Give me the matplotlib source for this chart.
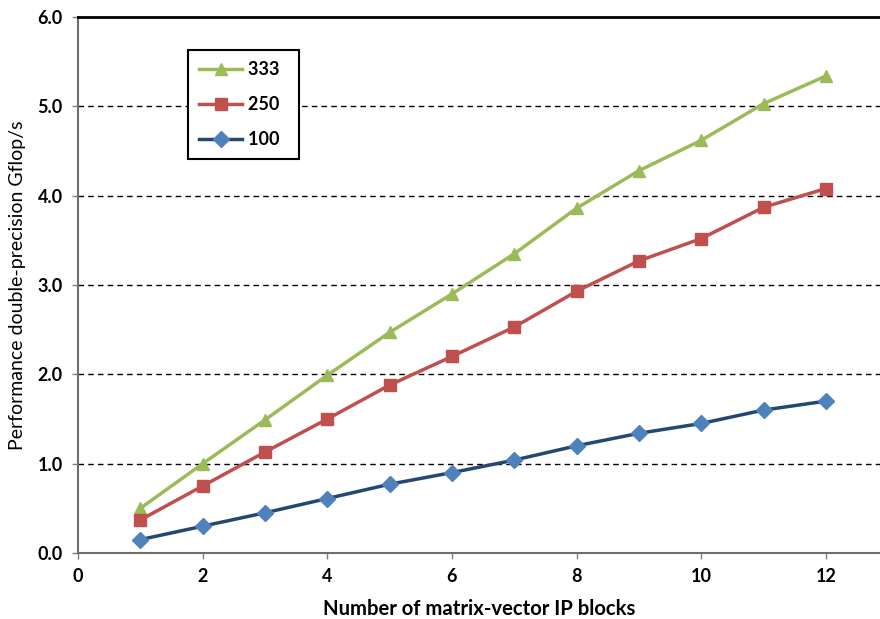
import matplotlib
matplotlib.use('Agg')
import matplotlib.pyplot as plt

plt.rcParams['font.family'] = ['Lato', 'DejaVu Sans']

# data
blocks = [1, 2, 3, 4, 5, 6, 7, 8, 9, 10, 11, 12]
perf_333 = [0.50, 1.00, 1.49, 1.99, 2.47, 2.90, 3.35, 3.86, 4.28, 4.62, 5.03, 5.34]
perf_250 = [0.37, 0.75, 1.13, 1.50, 1.88, 2.20, 2.53, 2.93, 3.27, 3.52, 3.87, 4.08]
perf_100 = [0.15, 0.30, 0.45, 0.61, 0.77, 0.90, 1.04, 1.20, 1.34, 1.45, 1.60, 1.70]
x_ticks = [0, 2, 4, 6, 8, 10, 12]
y_ticks = [0.0, 1.0, 2.0, 3.0, 4.0, 5.0, 6.0]

fig = plt.figure(figsize=(8.8, 6.19), dpi=100)
ax = fig.add_axes([78 / 880, 66 / 619, 1 - 78 / 880, 536 / 619])

ax.plot(blocks, perf_333, color='#9BBB59', lw=2.5, marker='^', ms=9,
        mfc='#9BBB59', mec='#9BBB59', label='333', zorder=4)
ax.plot(blocks, perf_250, color='#C0504D', lw=2.5, marker='s', ms=8,
        mfc='#C0504D', mec='#C0504D', label='250', zorder=4)
ax.plot(blocks, perf_100, color='#254872', lw=2.5, marker='D', ms=8,
        mfc='#4F81BD', mec='#4F81BD', label='100', zorder=4)

ax.set_xlim(0, 802 / 62.33)
ax.set_ylim(0, 6)
ax.set_xticks(x_ticks)
ax.set_yticks(y_ticks)
ax.set_yticklabels([f'{v:.1f}' for v in y_ticks])

for lbl in ax.get_xticklabels() + ax.get_yticklabels():
    lbl.set_fontweight('bold')
    lbl.set_fontsize(13)
ax.tick_params(axis='both', direction='out', length=4, width=1, color='#808080', pad=7)

ax.yaxis.grid(True, linestyle=(0, (4, 3)), color='black', lw=1)
ax.set_axisbelow(True)

ax.spines['right'].set_visible(False)
ax.spines['top'].set_linewidth(2)
ax.spines['top'].set_color('black')
ax.spines['left'].set_color('#6e6e6e')
ax.spines['left'].set_linewidth(1.5)
ax.spines['bottom'].set_color('#6e6e6e')
ax.spines['bottom'].set_linewidth(1.5)

ax.set_xlabel('Number of matrix-vector IP blocks', fontsize=14.6, fontweight='bold', labelpad=10)
ax.set_ylabel('Performance double-precision Gflop/s', fontsize=14, labelpad=8)

leg = ax.legend(loc='upper left', bbox_to_anchor=(110 / 802, 1 - 33 / 536),
                fancybox=False, edgecolor='black', framealpha=1,
                prop={'weight': 'bold', 'size': 13}, handlelength=2.4,
                labelspacing=1.0, borderpad=0.6, handletextpad=0.3,
                borderaxespad=0)
leg.get_frame().set_linewidth(1.5)
# the reference box is a bit wider than the entries need
leg._legend_box.sep = 0
for txt in leg.get_texts():
    txt.set_text(txt.get_text() + '  ')

fig.savefig('out.png', dpi=100)
